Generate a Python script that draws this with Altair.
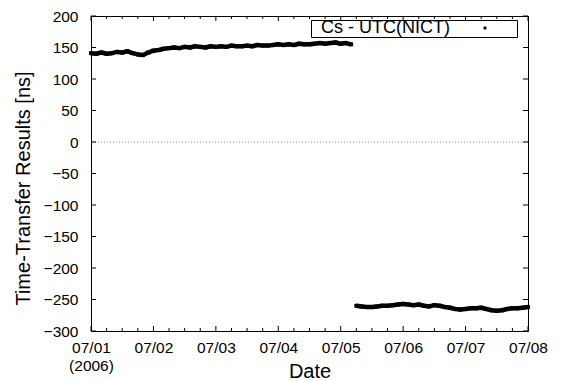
import json
import altair as alt
import pandas as pd

# ---------------- data ----------------
series_name = "Cs - UTC(NICT)"
day_labels = ["07/01", "07/02", "07/03", "07/04", "07/05", "07/06", "07/07", "07/08"]
year_label = "(2006)"

# sample times in hours since 2006-07-01 00:00
seg1_hours = list(range(0, 101, 2))
seg1_ns = [141, 140, 142, 140, 141, 143, 142, 144, 141, 139,
           138, 142, 145, 146, 148, 149, 150, 149, 151, 150,
           152, 151, 150, 152, 151, 152, 151, 153, 152, 152,
           153, 152, 154, 153, 153, 154, 155, 154, 155, 154,
           156, 155, 155, 156, 157, 156, 157, 158, 156, 157,
           155]
seg2_hours = list(range(102, 169, 2))
seg2_ns = [-260, -261, -262, -262, -261, -260, -260, -259, -258, -257,
           -258, -259, -258, -260, -261, -259, -260, -262, -263, -265,
           -266, -265, -264, -264, -263, -265, -267, -268, -267, -265,
           -264, -264, -263, -262]

y_ticks = [-300, -250, -200, -150, -100, -50, 0, 50, 100, 150, 200]
x_major = [0, 24, 48, 72, 96, 120, 144, 168]
x_minor = [6, 12, 18, 30, 36, 42, 54, 60, 66, 78, 84, 90,
           102, 108, 114, 126, 132, 138, 150, 156, 162]

df = pd.DataFrame({
    "hours": seg1_hours + seg2_hours,
    "ns": seg1_ns + seg2_ns,
    "seg": ["a"] * len(seg1_hours) + ["b"] * len(seg2_hours),
    "series": [series_name] * (len(seg1_hours) + len(seg2_hours)),
})
zero_df = pd.DataFrame({"ns": [0]})
xmaj_df = pd.DataFrame({"hours": x_major})
xmin_df = pd.DataFrame({"hours": x_minor})
yt_df = pd.DataFrame({"ns": y_ticks})

# ---------------- layout ----------------
W, H = 437, 315
FONT = "Liberation Sans"
Y_MIN, Y_MAX = -300, 200
X_MIN, X_MAX = 0, 168

xs = alt.Scale(domain=[X_MIN, X_MAX], nice=False, zero=False)
ys = alt.Scale(domain=[Y_MIN, Y_MAX], nice=False, zero=False)

label_expr = (
    f"datum.value == 0 ? ['{day_labels[0]}', '{year_label}'] : "
    f"{json.dumps(day_labels)}[round(datum.value / 24)]"
)

x_main_axis = alt.Axis(
    values=x_major, labelExpr=label_expr, ticks=False, tickSize=0, domain=False,
    grid=False, labelFont=FONT, labelFontSize=15.5, labelColor="black",
    labelPadding=9, labelLineHeight=18, labelFlush=False, labelOverlap=False,
    title="Date", titleFont=FONT, titleFontSize=20, titleFontWeight="normal",
    titleColor="black", titleY=46, titleBaseline="alphabetic",
)
y_main_axis = alt.Axis(
    values=y_ticks, ticks=False, tickSize=0, domain=False, grid=False,
    labelFont=FONT, labelFontSize=15.5, labelColor="black", labelPadding=13,
    labelOverlap=False,
    title="Time-Transfer Results [ns]", titleFont=FONT, titleFontSize=20,
    titleFontWeight="normal", titleColor="black", titleX=-68, titleY=172,
    titleBaseline="middle", titleAngle=270,
)

zero_line = alt.Chart(zero_df).mark_rule(
    color="#888888", strokeDash=[1, 2], strokeWidth=1
).encode(y=alt.Y("ns:Q", scale=ys, axis=None))

line = alt.Chart(df).mark_line(
    color="black", strokeWidth=4.5, strokeJoin="round"
).encode(
    x=alt.X("hours:Q", scale=xs, axis=x_main_axis),
    y=alt.Y("ns:Q", scale=ys, axis=y_main_axis),
    detail="seg:N",
)

points = alt.Chart(df).mark_square(size=16, opacity=1).encode(
    x=alt.X("hours:Q", scale=xs, axis=None),
    y=alt.Y("ns:Q", scale=ys, axis=None),
    color=alt.Color(
        "series:N",
        scale=alt.Scale(range=["black"]),
        legend=alt.Legend(
            orient="none", legendX=220, legendY=4,
            title="\u200b\u00a0\u00a0" + series_name, titleOrient="left",
            titleFont=FONT, titleFontSize=18, titleFontWeight="normal",
            titleColor="black", titlePadding=27, titleLimit=400,
            labelExpr="'\u00a0'", labelOffset=24,
            labelFont=FONT, labelFontSize=16,
            symbolType="square", symbolSize=8, symbolFillColor="black",
            symbolStrokeColor="black", symbolStrokeWidth=0,
            strokeColor="black", fillColor="white", padding=0,
        ),
    ),
)


def xticks(data, y_at, length, direction):
    return alt.Chart(data).mark_tick(
        orient="vertical", size=length, thickness=1, color="black", opacity=1,
        yOffset=direction * length / 2,
    ).encode(
        x=alt.X("hours:Q", scale=xs, axis=None),
        y=alt.YDatum(y_at, scale=ys, axis=None, type="quantitative"),
    )


def yticks(x_at, length, direction):
    return alt.Chart(yt_df).mark_tick(
        orient="horizontal", size=length, thickness=1, color="black", opacity=1,
        xOffset=direction * length / 2,
    ).encode(
        y=alt.Y("ns:Q", scale=ys, axis=None),
        x=alt.XDatum(x_at, scale=xs, axis=None, type="quantitative"),
    )


tick_layers = [
    xticks(xmaj_df, Y_MIN, 5, -1), xticks(xmin_df, Y_MIN, 3, -1),
    xticks(xmaj_df, Y_MAX, 5, 1), xticks(xmin_df, Y_MAX, 3, 1),
    yticks(X_MIN, 5, 1), yticks(X_MAX, 5, -1),
]

chart = alt.layer(zero_line, line, points, *tick_layers).resolve_axis(
    x="independent", y="independent"
).properties(
    width=W, height=H,
    padding={"left": 91, "top": 16, "right": 34, "bottom": 50},
    autosize=alt.AutoSizeParams(type="none"),
    background="white",
).configure_view(stroke="black", strokeWidth=1)

chart.save("out.html", embed_options={"renderer": "svg", "actions": False})
